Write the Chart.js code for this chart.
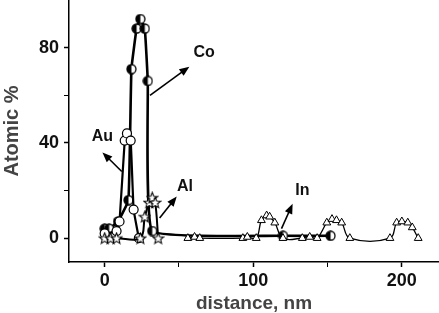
<!DOCTYPE html>
<html>
<head>
<meta charset="utf-8">
<script src="https://cdn.jsdelivr.net/npm/chart.js@4.4.1/dist/chart.umd.min.js"></script>
<style>
  html, body { margin: 0; padding: 0; background: #fff; }
  #wrap { width: 439px; height: 313px; position: relative; }
</style>
</head>
<body>
<div id="wrap"><canvas id="depthChart"></canvas></div>
<script>
// Depth profile (atomic % vs distance)

// Co (half filled circles)
const coX = [0, 3, 9, 16, 18, 21.5, 24, 27, 29, 32, 120, 152];
const coY = [4, 4, 7, 16, 71, 88, 92, 88, 66, 3, 1, 1];

// Au (open circles)
const auX = [0, 8, 10, 13.5, 15, 17.5, 19.5, 23];
const auY = [2, 3, 7, 41, 44, 41, 12, 0];

// Al (stars)
const alX = [0, 4, 8, 24, 27, 30, 32, 34, 36];
const alY = [0, 0, 0, 0, 9, 15, 17, 15, 0];

// In (open triangles)
const inX = [56, 60.5, 64, 93, 96, 102, 105.5, 109, 111, 114.5, 120, 133, 138, 143,
             149.5, 153, 156, 159.5, 165, 192, 196.5, 200, 204, 207, 211];
const inY = [0, 0.5, 0, 0, 0.5, 0, 7.5, 9.5, 9, 6.5, 0, 0, 0.5, 0,
             6.5, 8, 7.5, 6.5, 0, 0, 6.5, 7, 6.5, 4.5, 0];

// axis ticks
const xTicks = [0, 50, 100, 150, 200];
const xTickLabels = ['0', '', '100', '', '200'];
const yTicks = [0, 20, 40, 60, 80];
const yTickLabels = ['0', '', '40', '', '80'];

// labels with arrows (data coordinates)
const labels = [
    { text: 'Co', at: [67, 78], tail: [30.5, 60], head: [57, 72] },
    { text: 'Au', at: [-1.5, 42.5], tail: [11.5, 28], head: [-1.5, 36] },
    { text: 'Al', at: [54, 21.5], tail: [37, 8.5], head: [48.5, 17.5] },
    { text: 'In', at: [133, 20], tail: [119, 4], head: [126.5, 14.5] }
];

function toPoints(xs, ys) {
    return xs.map((x, i) => ({ x: x, y: ys[i] }));
}

function makeMarker(size, drawFn) {
    const c = document.createElement('canvas');
    c.width = size;
    c.height = size;
    drawFn(c.getContext('2d'), size);
    return c;
}

// half filled circle: left black, right white
const halfCircle = makeMarker(11, function (g, s) {
    const r = s / 2 - 1;
    g.beginPath();
    g.arc(s / 2, s / 2, r, 0, Math.PI * 2);
    g.fillStyle = '#fff';
    g.fill();
    g.beginPath();
    g.arc(s / 2, s / 2, r, Math.PI / 2, Math.PI * 1.5);
    g.closePath();
    g.fillStyle = '#000';
    g.fill();
    g.beginPath();
    g.arc(s / 2, s / 2, r, 0, Math.PI * 2);
    g.lineWidth = 1.3;
    g.strokeStyle = '#000';
    g.stroke();
});

const starMarker = makeMarker(13, function (g, s) {
    const cx = s / 2, cy = s / 2 + 0.5, ro = s / 2 - 0.8, ri = ro * 0.45;
    g.beginPath();
    for (let i = 0; i < 10; i++) {
        const a = -Math.PI / 2 + i * Math.PI / 5;
        const r = i % 2 === 0 ? ro : ri;
        g.lineTo(cx + r * Math.cos(a), cy + r * Math.sin(a));
    }
    g.closePath();
    g.fillStyle = '#fff';
    g.fill();
    g.lineWidth = 1.1;
    g.strokeStyle = '#000';
    g.stroke();
});

// arrows and series names
const labelPlugin = {
    id: 'seriesLabels',
    afterDatasetsDraw(chart) {
        const ctx = chart.ctx;
        const xs = chart.scales.x, ys = chart.scales.y;
        ctx.save();
        labels.forEach(function (l) {
            const x1 = xs.getPixelForValue(l.tail[0]), y1 = ys.getPixelForValue(l.tail[1]);
            const x2 = xs.getPixelForValue(l.head[0]), y2 = ys.getPixelForValue(l.head[1]);
            const ang = Math.atan2(y2 - y1, x2 - x1);
            const len = 10, wid = 4;
            ctx.strokeStyle = '#000';
            ctx.fillStyle = '#000';
            ctx.lineWidth = 1.6;
            ctx.beginPath();
            ctx.moveTo(x1, y1);
            ctx.lineTo(x2 - Math.cos(ang) * len * 0.8, y2 - Math.sin(ang) * len * 0.8);
            ctx.stroke();
            ctx.beginPath();
            ctx.moveTo(x2, y2);
            ctx.lineTo(x2 - Math.cos(ang) * len - Math.sin(ang) * wid, y2 - Math.sin(ang) * len + Math.cos(ang) * wid);
            ctx.lineTo(x2 - Math.cos(ang) * len + Math.sin(ang) * wid, y2 - Math.sin(ang) * len - Math.cos(ang) * wid);
            ctx.closePath();
            ctx.fill();

            ctx.font = 'bold 16px "Liberation Sans", Arial, sans-serif';
            ctx.fillStyle = '#111';
            ctx.textAlign = 'center';
            ctx.textBaseline = 'middle';
            ctx.fillText(l.text, xs.getPixelForValue(l.at[0]), ys.getPixelForValue(l.at[1]));
        });
        ctx.restore();
    }
};

function init() {
    const canvas = document.getElementById('depthChart');
    const ctx = canvas.getContext('2d');

    Chart.defaults.font.family = '"Liberation Sans", Arial, sans-serif';

    new Chart(ctx, {
        type: 'line',
        data: {
            datasets: [
                {
                    label: 'In',
                    data: toPoints(inX, inY),
                    borderColor: '#000',
                    borderWidth: 1.3,
                    tension: 0.4,
                    pointStyle: 'triangle',
                    pointRadius: 4.5,
                    pointBackgroundColor: '#fff',
                    pointBorderColor: '#000',
                    pointBorderWidth: 1
                },
                {
                    label: 'Al',
                    data: toPoints(alX, alY),
                    borderColor: '#000',
                    borderWidth: 2,
                    tension: 0.35,
                    pointStyle: starMarker
                },
                {
                    label: 'Au',
                    data: toPoints(auX, auY),
                    borderColor: '#000',
                    borderWidth: 2.2,
                    tension: 0.1,
                    pointStyle: 'circle',
                    pointRadius: 4.5,
                    pointBackgroundColor: '#fff',
                    pointBorderColor: '#000',
                    pointBorderWidth: 1.2
                },
                {
                    label: 'Co',
                    data: toPoints(coX, coY),
                    borderColor: '#000',
                    borderWidth: 2.6,
                    tension: 0.1,
                    pointStyle: halfCircle
                }
            ]
        },
        options: {
            responsive: true,
            maintainAspectRatio: false,
            animation: false,
            layout: { padding: 0, autoPadding: false },
            plugins: {
                legend: { display: false },
                tooltip: { enabled: false }
            },
            scales: {
                x: {
                    type: 'linear',
                    min: -24,
                    max: 225,
                    afterFit: function (s) {
                        s.height = 51;
                        s.paddingLeft = 0;
                        s.paddingRight = 0;
                    },
                    afterBuildTicks: function (s) { s.ticks = xTicks.map(v => ({ value: v })); },
                    border: { color: '#000', width: 1.5 },
                    grid: {
                        drawOnChartArea: false,
                        drawTicks: true,
                        tickLength: 5,
                        tickColor: '#000',
                        tickWidth: c => (c.index % 2 === 0 ? 1.5 : 1)
                    },
                    ticks: {
                        color: '#111',
                        padding: 3,
                        maxRotation: 0,
                        autoSkip: false,
                        font: { size: 18, weight: 'bold' },
                        callback: function (value, i) { return xTickLabels[i]; }
                    },
                    title: {
                        display: true,
                        text: 'distance, nm',
                        color: '#444',
                        padding: { top: 0, bottom: -2 },
                        font: { size: 19, weight: 'bold' }
                    }
                },
                y: {
                    type: 'linear',
                    min: -10,
                    max: 100,
                    afterFit: function (s) {
                        s.width = 69;
                        s.paddingTop = 0;
                        s.paddingBottom = 0;
                    },
                    afterBuildTicks: function (s) { s.ticks = yTicks.map(v => ({ value: v })); },
                    border: { color: '#000', width: 1.5 },
                    grid: {
                        drawOnChartArea: false,
                        drawTicks: true,
                        tickLength: 5,
                        tickColor: '#000',
                        tickWidth: c => (c.index % 2 === 0 ? 1.5 : 1)
                    },
                    ticks: {
                        color: '#111',
                        padding: 5,
                        autoSkip: false,
                        font: { size: 18, weight: 'bold' },
                        callback: function (value, i) { return yTickLabels[i]; }
                    },
                    title: {
                        display: true,
                        text: 'Atomic %',
                        color: '#444',
                        padding: 0,
                        font: { size: 20, weight: 'bold' }
                    }
                }
            }
        },
        plugins: [labelPlugin]
    });
}

init();
</script>
</body>
</html>
